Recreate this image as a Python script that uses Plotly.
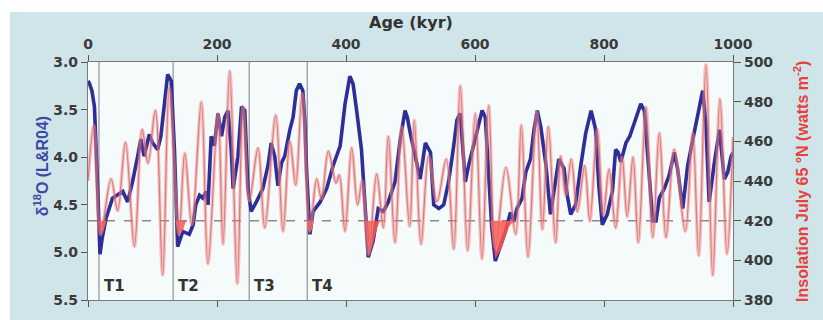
import plotly.graph_objects as go

# LR04 benthic d18O stack (per mil), age in kyr
d18o_age = [0, 2, 6, 10, 15, 18.6, 22, 28, 38, 54, 61.5, 69, 77, 82, 87, 95, 100, 108, 113,
            118, 123.5, 129, 134, 139, 147, 157, 163, 167, 173, 178, 183, 186, 191, 196, 201.5,
            207, 212, 217, 222, 225, 232.5, 238, 243, 248, 253, 261, 271, 279, 284, 289.5,
            294.5, 300, 305, 313, 318, 323, 328, 333, 336, 339, 344, 349, 360, 370, 380, 391,
            398.5, 406, 411, 416.5, 424, 429.5, 434.5, 442, 450, 458, 465.5, 476, 484, 491.5,
            495, 500, 510, 515, 523, 531, 536, 544, 551.5, 559, 567, 572, 577, 585, 590, 598,
            603, 611, 616, 621, 626, 631.5, 639, 647, 655, 660, 665, 673, 678.6, 686, 691.5,
            696.6, 702, 709.6, 717, 722.5, 730, 738, 743, 748.4, 756, 764, 771.6, 780, 787,
            792, 797.4, 805, 813, 818, 822, 826, 834, 840, 847, 857, 862.5, 867.7, 875.5,
            880.6, 885.7, 893.5, 901, 909, 914, 922, 929.7, 937.5, 945, 953, 958, 963, 971,
            979, 986.5, 991.8, 997, 1000]
d18o_val = [3.20, 3.22, 3.30, 3.47, 4.33, 5.02, 4.85, 4.64, 4.43, 4.36, 4.47, 4.26, 3.99, 3.81,
            3.99, 3.76, 3.85, 3.92, 3.78, 3.47, 3.13, 3.20, 3.92, 4.94, 4.78, 4.81, 4.71, 4.50,
            4.40, 4.43, 4.36, 4.50, 3.78, 3.88, 3.54, 3.78, 3.58, 3.51, 3.92, 4.33, 3.99, 3.47,
            3.51, 4.33, 4.57, 4.47, 4.33, 4.09, 3.85, 3.99, 4.30, 4.06, 3.99, 3.71, 3.58, 3.30,
            3.23, 3.30, 3.60, 4.16, 4.81, 4.57, 4.47, 4.33, 4.09, 3.88, 3.44, 3.15, 3.23, 3.51,
            3.92, 4.50, 5.05, 4.88, 4.54, 4.57, 4.47, 4.26, 3.82, 3.51, 3.58, 3.76, 4.09, 4.23,
            3.85, 3.95, 4.50, 4.54, 4.50, 4.26, 3.88, 3.61, 3.54, 4.26, 4.09, 3.88, 3.75, 3.51,
            3.58, 4.16, 4.74, 5.09, 4.95, 4.78, 4.58, 4.68, 4.54, 4.43, 4.16, 4.02, 3.71, 3.51,
            3.68, 4.06, 4.60, 4.33, 4.02, 4.12, 4.40, 4.60, 4.50, 4.09, 3.75, 3.51, 3.71, 4.30,
            4.71, 4.60, 4.36, 3.92, 3.95, 4.05, 3.85, 3.78, 3.65, 3.44, 3.51, 3.99, 4.67, 4.67,
            4.43, 4.33, 4.19, 3.95, 4.12, 4.54, 4.09, 3.82, 3.58, 3.30, 3.65, 4.47, 4.06, 3.71,
            4.23, 4.16, 3.99, 3.95]

# July insolation at 65 N (W m-2), successive maxima and minima
insol_age = [0, 9, 19.5, 35.7, 46, 58, 72, 84, 93, 104.4, 115.8, 126, 141, 150, 161, 175.7,
             186, 201.6, 209.3, 219.7, 231.5, 240.3, 250, 263.6, 274, 291, 302.3, 313, 322,
             332, 344, 354.5, 362, 372.6, 384.5, 389.6, 398.4, 408.8, 418, 425, 435, 447.6,
             457.8, 465.6, 476, 486.4, 498.7, 505.9, 516.3, 528.2, 541, 555.5, 567, 577.2,
             588.6, 600.5, 610.9, 621.2, 631.5, 648, 663, 671.8, 682.2, 695.6, 704.4, 713.7,
             725, 732.9, 740.6, 749.3, 758.6, 770, 778, 789.6, 799, 807.8, 818, 828, 836, 845,
             853.2, 865.1, 875.5, 885.8, 896.1, 909, 926, 937.5, 946.8, 958.1, 968.5, 979.8,
             990.7, 1000]
insol_val = [440, 468, 413, 441, 425, 459.5, 407, 466, 449, 475.6, 392.5, 487, 413, 454, 418,
             479.8, 398.3, 474, 408.2, 495.4, 388.4, 477.3, 430, 456.7, 416.4, 473.2, 414.7,
             460, 438, 484, 415, 441, 431, 455, 439, 443, 414.7, 456.7, 428, 440, 403.2, 443.6,
             416.4, 462.5, 409, 467.4, 417.2, 470.7, 408.2, 452.6, 429.6, 451, 405.7, 488,
             404.9, 474, 400.7, 478.1, 406.5, 446.8, 413.1, 468.2, 401.6, 474.8, 415.6, 467.4,
             409, 452.6, 432.8, 451, 424.6, 447.7, 419.7, 465.8, 423, 446, 416.4, 452, 422,
             452, 409, 477.3, 411.5, 464.1, 411.5, 455.9, 414.7, 464.1, 402.4, 498.7, 392.5,
             481.4, 403.2, 462]

# Glacial terminations
term_age = [17, 132, 250, 340]
term_name = ["T1", "T2", "T3", "T4"]

# Shaded glacial-maximum lobes below the 420 W m-2 reference (lower edge, W m-2)
ref_insol = 420
shade_age = [
    [16.5, 20, 24, 29],
    [135.5, 141, 147, 152],
    [339, 343, 347, 350],
    [429.5, 434.6, 442, 448, 452.7],
    [623.7, 631.5, 641.9, 652, 660],
]
shade_val = [
    [420, 412, 415, 420],
    [420, 412.3, 415, 420],
    [420, 413, 416, 420],
    [420, 401.6, 408, 416, 420],
    [420, 400.8, 406.5, 416.4, 420],
]

x_ticks = [0, 200, 400, 600, 800, 1000]
d18o_ticks = [3.0, 3.5, 4.0, 4.5, 5.0, 5.5]
insol_ticks = [380, 400, 420, 440, 460, 480, 500]

BLUE = "#2e2e98"
TICK_FONT = dict(family="DejaVu Sans", size=14, color="#3a3a3a", weight="bold")
AXIS_LINE = "#7a7a7a"

fig = go.Figure()

# red lobes between the reference level and their lower edge
for xs, ys in zip(shade_age, shade_val):
    fig.add_trace(go.Scatter(x=[xs[0], xs[-1]], y=[ref_insol, ref_insol], yaxis="y2",
                             mode="lines", line=dict(width=0), hoverinfo="skip",
                             showlegend=False))
    fig.add_trace(go.Scatter(x=xs, y=ys, yaxis="y2", mode="lines", fill="tonexty",
                             fillcolor="rgba(255,85,75,0.85)", line=dict(width=0),
                             hoverinfo="skip", showlegend=False))

# d18O stack
fig.add_trace(go.Scatter(x=d18o_age, y=d18o_val, mode="lines",
                         line=dict(color=BLUE, width=3.6), showlegend=False))

# insolation: soft halo plus darker core
fig.add_trace(go.Scatter(x=insol_age, y=insol_val, yaxis="y2", mode="lines",
                         line=dict(color="rgba(240,140,140,0.5)", width=3.4, shape="spline"),
                         showlegend=False))
fig.add_trace(go.Scatter(x=insol_age, y=insol_val, yaxis="y2", mode="lines",
                         line=dict(color="rgba(214,80,80,0.65)", width=1.2, shape="spline"),
                         showlegend=False))

# termination markers
for t, name in zip(term_age, term_name):
    fig.add_shape(type="line", xref="x", yref="paper", x0=t, x1=t, y0=0, y1=1,
                  line=dict(color="#9a9a9a", width=1.3), layer="below")
    fig.add_annotation(x=t, y=5.5, xref="x", yref="y", text=name, showarrow=False,
                       xanchor="left", yanchor="bottom", xshift=3, yshift=3,
                       font=dict(family="DejaVu Sans", size=15, color="#333333", weight="bold"))

# reference insolation level
fig.add_shape(type="line", xref="paper", x0=0, x1=1, yref="y2", y0=ref_insol, y1=ref_insol,
              line=dict(color="#8a8a8a", width=1.5, dash="dash"), layer="below")

# white page edges around the tinted panel
fig.add_shape(type="rect", xref="paper", yref="paper", x0=-0.3, x1=1.3, y0=1.2099, y1=1.5,
              fillcolor="white", line=dict(width=0), layer="below")
fig.add_shape(type="rect", xref="paper", yref="paper", x0=-0.3, x1=-0.1209, y0=-0.3, y1=1.5,
              fillcolor="white", line=dict(width=0), layer="below")

fig.add_annotation(text="Age (kyr)", xref="paper", yref="paper", x=0.5, y=1.165,
                   showarrow=False, yanchor="middle",
                   font=dict(family="DejaVu Sans", size=16, color="#333333", weight="bold"))
fig.add_annotation(text="δ<sup>18</sup>O (L&R04)", xref="paper", yref="paper",
                   x=-0.0922, y=0.56, textangle=-90, showarrow=False,
                   font=dict(family="Liberation Sans", size=16, color="#3b4aa6", weight="bold"))
fig.add_annotation(text="Insolation July 65 °N (watts m<sup>-2</sup>)", xref="paper",
                   yref="paper", x=1.124, y=0.5, textangle=-90, showarrow=False,
                   font=dict(family="Liberation Sans", size=16, color="#e8413c", weight="bold"))

fig.update_layout(
    width=823, height=320, autosize=False,
    margin=dict(l=88, r=90, t=62, b=15, pad=0),
    paper_bgcolor="#cfe5ea",
    plot_bgcolor="#f5fafb",
    showlegend=False,
    xaxis=dict(range=[0, 1000], side="top", tickvals=x_ticks, ticks="outside", ticklen=6,
               tickcolor="#555555", showline=True, linecolor=AXIS_LINE, linewidth=1.2,
               mirror="ticks", showgrid=False, zeroline=False, tickfont=TICK_FONT),
    yaxis=dict(range=[5.5, 3.0], tickvals=d18o_ticks,
               ticktext=[f"{v:.1f}" for v in d18o_ticks], ticks="outside", ticklen=6,
               tickcolor="#555555", showline=True, linecolor=AXIS_LINE, linewidth=1.2,
               showgrid=False, zeroline=False, tickfont=TICK_FONT),
    yaxis2=dict(range=[380, 500], tickvals=insol_ticks, overlaying="y", side="right",
                ticks="outside", ticklen=7, tickcolor="#555555", showline=True,
                linecolor=AXIS_LINE, linewidth=1.2, showgrid=False, zeroline=False,
                tickfont=TICK_FONT),
)

fig.write_html("out.html")
